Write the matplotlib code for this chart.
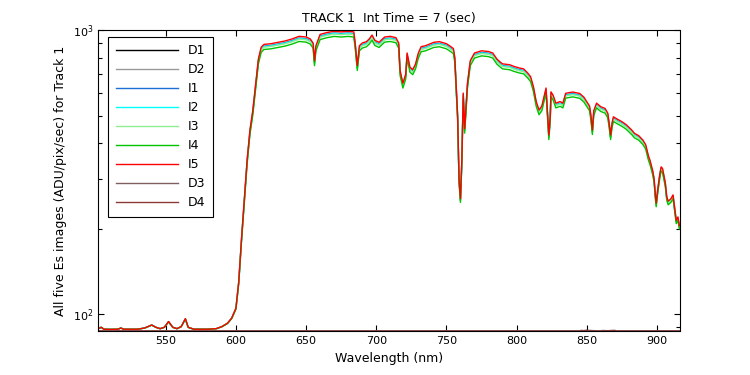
import matplotlib
matplotlib.use('Agg')
import matplotlib.pyplot as plt
import matplotlib.ticker as mticker
import numpy as np

# ---------------------------------------------------------------
# data
# ---------------------------------------------------------------
wl = [502, 504, 506, 510, 516, 518, 520, 530, 535, 540, 543, 546, 549, 552,
      555, 558, 561, 564, 566, 570, 580, 586, 590, 594, 597, 600, 602, 604,
      606, 608, 610, 612, 614, 616, 618, 620, 625, 630, 635, 640, 645, 650,
      653, 655, 656, 657, 660, 665, 670, 675, 680, 684, 685, 686.5, 688, 690,
      693, 695, 697, 699, 702, 706, 710, 714, 716, 717, 719, 721, 722, 724,
      726, 728, 730, 732, 735, 741, 745, 750, 753, 755, 756, 758, 759, 760,
      761, 762, 763, 765, 767, 770, 775, 780, 783, 786, 788, 790, 795, 798,
      802, 805, 808, 810, 812, 814, 816, 818, 819.5, 821, 822, 823, 824,
      824.5, 826, 828, 831, 833, 835, 840, 845, 848, 850, 852, 853, 854, 855,
      857, 860, 863, 865, 866, 867, 868, 869, 872, 875, 878, 882, 884, 887,
      890, 892, 894, 895, 897, 898, 899, 899.5, 900.5, 902, 903, 904, 906,
      907, 908, 910, 911.5, 912.5, 913.8, 915, 916]

es = [89, 90, 88.6, 88.5, 88.6, 89.5, 88.6, 88.6, 89.5, 91.7, 90, 89, 90, 94.3,
      90, 89, 90.5, 96.5, 90, 88.6, 88.6, 89, 90.5, 93, 97, 105, 130, 185,
      255, 350, 445, 520, 640, 790, 870, 890, 895, 905, 915, 930, 950, 945,
      930, 900, 780, 880, 965, 980, 990, 985, 990, 985, 900, 750, 880, 900,
      910, 930, 960, 920, 905, 945, 950, 940, 900, 720, 650, 700, 830, 740,
      725, 760, 830, 874, 880, 905, 910, 895, 875, 860, 800, 500, 300, 255,
      350, 600, 450, 650, 780, 830, 845, 840, 830, 790, 774, 760, 755, 745,
      735, 730, 705, 685, 632, 560, 523, 540, 582, 625, 520, 427, 500,
      606, 590, 553, 560, 553, 599, 605, 598, 580, 560, 540, 500, 445, 520,
      553, 537, 530, 510, 470, 427, 470, 495, 485, 476, 465, 445, 433, 425,
      410, 395, 360, 349, 320, 300, 260, 246, 273, 310, 330, 326, 290,
      260, 250, 255, 263, 240, 214, 220, 205]

# relative gain of each Es image against the brightest one
img_names = ['I1', 'I2', 'I3', 'I4', 'I5']
img_gain = [0.985, 0.98, 0.975, 0.955, 1.0]
bias = 88.0

# dark frames sit on the floor of the plot
dark_wl = [502, 600, 700, 800, 845, 846, 850, 851, 860, 861, 870, 871, 916]
D1 = [87.2, 87.2, 87.2, 87.2, 87.2, 87.2, 87.2, 87.2, 87.2, 87.2, 87.2, 87.2, 87.2]
D2 = [87.2, 87.2, 87.2, 87.2, 87.2, 87.2, 87.2, 87.2, 87.2, 87.2, 87.2, 87.2, 87.2]
D3 = [87.3, 87.3, 87.3, 87.3, 87.3, 87.8, 87.3, 87.8, 87.3, 87.7, 87.3, 87.3, 87.3]
D4 = [87.3, 87.3, 87.3, 87.3, 87.3, 87.3, 87.9, 87.3, 87.3, 87.3, 87.8, 87.3, 87.3]

colors = {'D1': 'black', 'D2': '#999999', 'I1': '#1e6fd6', 'I2': '#00ffff',
          'I3': '#90ee90', 'I4': '#00c400', 'I5': '#ff0000',
          'D3': '#7f5f5f', 'D4': '#8b3a3a'}

# ---------------------------------------------------------------
plt.rcParams['font.family'] = ['DejaVu Sans']
plt.rcParams['font.size'] = 8
plt.rcParams['mathtext.default'] = 'regular'

fig = plt.figure(figsize=(7.5, 3.75), dpi=100)
ax = fig.add_axes([0.131, 0.1165, 0.775, 0.8035])

es_arr = np.array(es)
ax.plot(dark_wl, D1, color=colors['D1'], lw=1.0, label='D1')
ax.plot(dark_wl, D2, color=colors['D2'], lw=1.0, label='D2')
for name, g in zip(img_names, img_gain):
    ax.plot(wl, bias + g * (es_arr - bias), color=colors[name], lw=1.0, label=name)
ax.plot(dark_wl, D3, color=colors['D3'], lw=1.0, label='D3')
ax.plot(dark_wl, D4, color=colors['D4'], lw=1.0, label='D4')

ax.set_yscale('log')
ax.set_xlim(501.9, 916.1)
ax.set_ylim(87.1, 1000)
ax.set_xticks([550, 600, 650, 700, 750, 800, 850, 900])
ax.yaxis.set_major_locator(mticker.FixedLocator([100, 1000]))
ax.yaxis.set_major_formatter(mticker.LogFormatterSciNotation())
ax.yaxis.set_minor_locator(mticker.LogLocator(subs=np.arange(2, 10)))
ax.yaxis.set_minor_formatter(mticker.NullFormatter())
ax.tick_params(which='both', direction='in', top=True, right=True, width=0.8)
ax.tick_params(which='major', length=4.5)
ax.tick_params(which='minor', length=3)
for sp in ax.spines.values():
    sp.set_linewidth(0.8)

ax.set_xlabel('Wavelength (nm)', fontsize=9)
ax.set_ylabel('All five Es images (ADU/pix/sec) for Track 1', fontsize=9)
ax.set_title('TRACK 1  Int Time = 7 (sec)', fontsize=9)

leg = ax.legend(loc='upper left', bbox_to_anchor=(0.017, 0.977), borderaxespad=0,
                fancybox=False, edgecolor='black', framealpha=1, fontsize=9,
                handlelength=5.0, labelspacing=0.48, borderpad=0.6)
leg.get_frame().set_linewidth(0.8)

fig.savefig('out.png', dpi=100)
